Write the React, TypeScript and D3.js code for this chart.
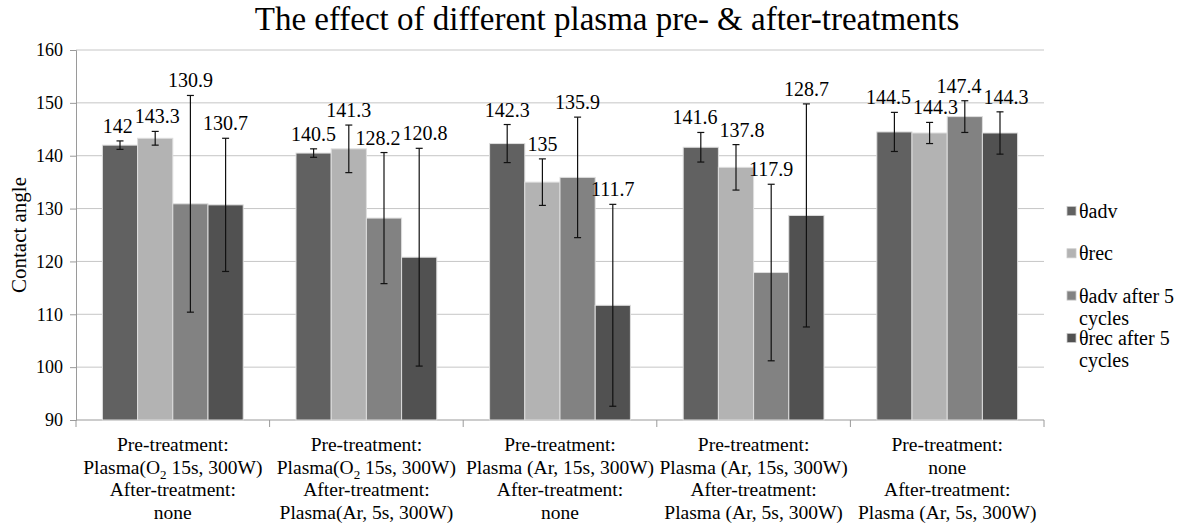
import React, { useRef, useEffect } from 'react';
import * as d3 from 'd3';

// categories: each label is several lines, "_2" marks a subscript 2
const categoryLines = [
  ['Pre-treatment:', 'Plasma(O_2 15s, 300W)', 'After-treatment:', 'none'],
  ['Pre-treatment:', 'Plasma(O_2 15s, 300W)', 'After-treatment:', 'Plasma(Ar, 5s, 300W)'],
  ['Pre-treatment:', 'Plasma (Ar, 15s, 300W)', 'After-treatment:', 'none'],
  ['Pre-treatment:', 'Plasma (Ar, 15s, 300W)', 'After-treatment:', 'Plasma (Ar, 5s, 300W)'],
  ['Pre-treatment:', 'none', 'After-treatment:', 'Plasma (Ar, 5s, 300W)'],
];

const seriesNames = ['θadv', 'θrec', 'θadv after 5 cycles', 'θrec after 5 cycles'];
const legendLines = [['θadv'], ['θrec'], ['θadv after 5', 'cycles'], ['θrec after 5', 'cycles']];
const seriesColors = ['#616161', '#b3b3b3', '#828282', '#515151'];

const advValues = [142, 140.5, 142.3, 141.6, 144.5];
const recValues = [143.3, 141.3, 135, 137.8, 144.3];
const adv5Values = [130.9, 128.2, 135.9, 117.9, 147.4];
const rec5Values = [130.7, 120.8, 111.7, 128.7, 144.3];

const advErr = [0.8, 0.8, 3.6, 2.8, 3.7];
const recErr = [1.3, 4.5, 4.4, 4.3, 2.0];
const adv5Err = [20.5, 12.4, 11.4, 16.7, 3.0];
const rec5Err = [12.6, 20.6, 19.1, 21.1, 4.0];

const yTicks = [90, 100, 110, 120, 130, 140, 150, 160];

const FONT = '"Liberation Serif", "Times New Roman", serif';

function App() {
  const width = 1188;
  const height = 529;
  const svgRef = useRef<SVGSVGElement>(null);

  const margin = { top: 50, right: 144, bottom: 109, left: 76 };
  const innerWidth = width - margin.left - margin.right;
  const innerHeight = height - margin.top - margin.bottom;

  useEffect(() => {
    const svg = d3.select(svgRef.current);
    svg.selectAll('*').remove();

    const values = [advValues, recValues, adv5Values, rec5Values];
    const errors = [advErr, recErr, adv5Err, rec5Err];
    const catIdx = categoryLines.map((_, i) => i);

    const xScale = d3.scaleBand<number>()
      .domain(catIdx)
      .range([0, innerWidth])
      .padding(0);
    const xInner = d3.scaleBand<number>()
      .domain(seriesNames.map((_, i) => i))
      .range([0, xScale.bandwidth()])
      .paddingInner(0)
      .paddingOuter(0.75);
    const yScale = d3.scaleLinear()
      .domain([90, 160])
      .range([innerHeight, 0]);

    const g = svg.append('g')
      .attr('transform', `translate(${margin.left},${margin.top})`);

    // gridlines
    g.selectAll('line.grid').data(yTicks.filter(t => t > 90))
      .enter().append('line')
      .attr('class', 'grid')
      .attr('x1', 0).attr('x2', innerWidth)
      .attr('y1', d => yScale(d)).attr('y2', d => yScale(d))
      .attr('stroke', '#c6c6c6').attr('stroke-width', 1);

    // y axis
    const yAxis = d3.axisLeft(yScale).tickValues(yTicks).tickSize(6).tickPadding(7);
    const yAx = g.append('g').call(yAxis);
    yAx.attr('font-family', FONT);
    yAx.select('.domain').attr('stroke', '#9a9a9a');
    yAx.selectAll('.tick line').attr('stroke', '#9a9a9a');
    yAx.selectAll('.tick text')
      .attr('font-family', FONT).attr('font-size', 18).attr('fill', '#000');

    // x axis line + category ticks
    g.append('line')
      .attr('x1', 0).attr('x2', innerWidth)
      .attr('y1', innerHeight).attr('y2', innerHeight)
      .attr('stroke', '#9a9a9a');
    g.selectAll('line.xtick').data(d3.range(categoryLines.length + 1))
      .enter().append('line')
      .attr('class', 'xtick')
      .attr('x1', d => d * xScale.step()).attr('x2', d => d * xScale.step())
      .attr('y1', innerHeight).attr('y2', innerHeight + 7)
      .attr('stroke', '#9a9a9a');

    // bars
    values.forEach((series, s) => {
      const sg = g.append('g');
      sg.selectAll('rect').data(series)
        .enter().append('rect')
        .attr('x', (d, i) => (xScale(i) as number) + (xInner(s) as number))
        .attr('y', d => yScale(d))
        .attr('width', xInner.bandwidth())
        .attr('height', d => innerHeight - yScale(d))
        .attr('fill', seriesColors[s])
        .attr('stroke', '#dedede')
        .attr('stroke-width', 1);
    });

    // error bars
    const eg = g.append('g');
    const lg = g.append('g');
    categoryLines.forEach((_, i) => {
      const labels: { node: SVGTextElement; x: number; y: number; w: number }[] = [];
      values.forEach((series, s) => {
        const v = series[i];
        const cx = (xScale(i) as number) + (xInner(s) as number) + xInner.bandwidth() / 2;
        const e = errors[s][i];
        const yTop = yScale(v + e);
        const yBot = yScale(v - e);
        eg.append('line')
          .attr('x1', cx).attr('x2', cx).attr('y1', yTop).attr('y2', yBot)
          .attr('stroke', '#111').attr('stroke-width', 1.2);
        [yTop, yBot].forEach(yy => {
          eg.append('line')
            .attr('x1', cx - 3.5).attr('x2', cx + 3.5).attr('y1', yy).attr('y2', yy)
            .attr('stroke', '#111').attr('stroke-width', 1.2);
        });
        const t = lg.append('text')
          .attr('x', cx)
          .attr('y', yTop - 8)
          .attr('text-anchor', 'middle')
          .attr('font-family', FONT).attr('font-size', 20)
          .attr('fill', '#000')
          .text(String(v));
        const node = t.node() as SVGTextElement;
        labels.push({ node, x: cx, y: yTop - 8, w: node.getComputedTextLength() });
      });
      // push apart neighbouring labels that collide
      for (let pass = 0; pass < 6; pass++) {
        for (let k = 1; k < labels.length; k++) {
          const a = labels[k - 1];
          const b = labels[k];
          if (Math.abs(a.y - b.y) > 16) continue;
          const gap = (b.x - b.w / 2) - (a.x + a.w / 2);
          if (gap < 2) {
            const shift = (2 - gap) / 2;
            a.x -= shift;
            b.x += shift;
          }
        }
      }
      labels.forEach(l => d3.select(l.node).attr('x', l.x));
    });

    // category labels
    categoryLines.forEach((lines, i) => {
      const cx = (xScale(i) as number) + xScale.bandwidth() / 2;
      lines.forEach((line, li) => {
        const t = g.append('text')
          .attr('x', cx)
          .attr('y', innerHeight + 31 + li * 22.7)
          .attr('text-anchor', 'middle')
          .attr('font-family', FONT).attr('font-size', 19.5)
          .attr('fill', '#000');
        const parts = line.split('_2');
        if (parts.length > 1) {
          t.append('tspan').text(parts[0]);
          t.append('tspan').attr('font-size', 13).attr('dy', 5).text('2');
          t.append('tspan').attr('dy', -5).text(parts[1]);
        } else {
          t.text(line);
        }
      });
    });

    // y axis title
    svg.append('text')
      .attr('transform', `translate(26,${margin.top + innerHeight / 2}) rotate(-90)`)
      .attr('text-anchor', 'middle')
      .attr('font-family', FONT).attr('font-size', 21)
      .attr('fill', '#000')
      .text('Contact angle');

    // title
    svg.append('text')
      .attr('x', 607)
      .attr('y', 30)
      .attr('text-anchor', 'middle')
      .attr('font-family', FONT).attr('font-size', 33)
      .attr('fill', '#000')
      .text('The effect of different plasma pre- & after-treatments');

    // legend
    const legend = svg.append('g').attr('transform', 'translate(1067,211)');
    legendLines.forEach((lines, s) => {
      const ly = s * 42.3;
      legend.append('rect')
        .attr('x', 0).attr('y', ly - 4.5)
        .attr('width', 9).attr('height', 9)
        .attr('fill', seriesColors[s])
        .attr('stroke', '#c8c8c8').attr('stroke-width', 0.8);
      lines.forEach((line, li) => {
        legend.append('text')
          .attr('x', 12)
          .attr('y', ly + li * 22)
          .attr('dy', '0.35em')
          .attr('font-family', FONT).attr('font-size', 20)
          .attr('fill', '#000')
          .text(line);
      });
    });
  });

  return (
    <svg
      ref={svgRef}
      width={width}
      height={height}
      style={{ position: 'absolute', left: 0, top: 0, background: '#fff' }}
    />
  );
}

export default App;
